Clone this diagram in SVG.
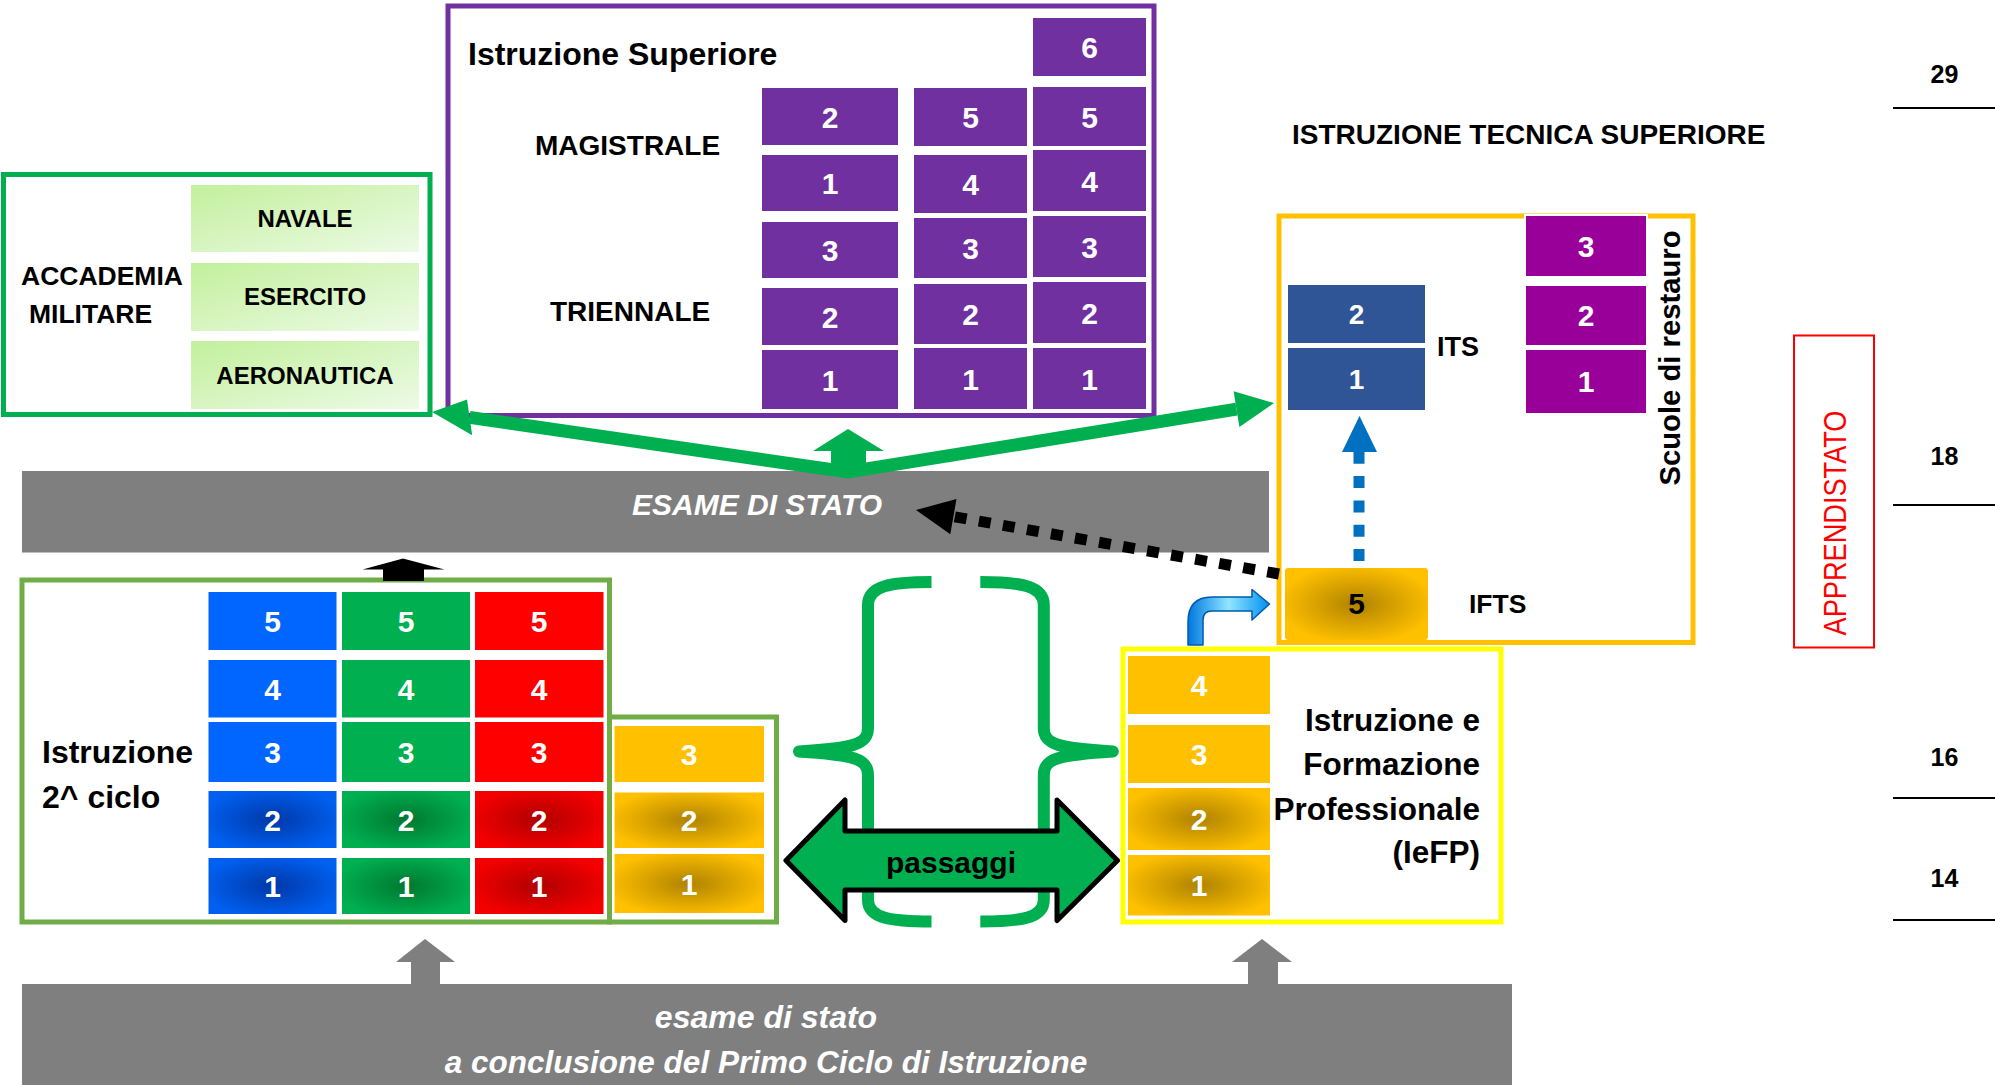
<svg xmlns="http://www.w3.org/2000/svg" width="1995" height="1085" viewBox="0 0 1995 1085">
<defs>
<radialGradient id="gY" cx="0.5" cy="0.5" r="0.55"><stop offset="0" stop-color="#b08300"/><stop offset="1" stop-color="#ffc000"/></radialGradient>
<radialGradient id="gB" cx="0.5" cy="0.5" r="0.55"><stop offset="0" stop-color="#0038a8"/><stop offset="1" stop-color="#0060f0"/></radialGradient>
<radialGradient id="gG" cx="0.5" cy="0.5" r="0.55"><stop offset="0" stop-color="#007830"/><stop offset="1" stop-color="#00b050"/></radialGradient>
<radialGradient id="gR" cx="0.5" cy="0.5" r="0.55"><stop offset="0" stop-color="#b00000"/><stop offset="1" stop-color="#f50000"/></radialGradient>
<linearGradient id="gL" x1="0" y1="0" x2="1" y2="1"><stop offset="0" stop-color="#c2f09c"/><stop offset="1" stop-color="#edfae6"/></linearGradient>
<linearGradient id="gA" x1="0" y1="0" x2="1" y2="0"><stop offset="0" stop-color="#0078e0"/><stop offset="0.5" stop-color="#8fe6ff"/><stop offset="1" stop-color="#0090f0"/></linearGradient>
</defs>
<style>
text{font-family:"Liberation Sans",Arial,sans-serif;font-weight:bold}
.n{font-size:30px;text-anchor:middle;fill:#fff}
.n28{font-size:28px;text-anchor:middle;fill:#fff}
.c{stroke:#fff;stroke-width:2}
.pu{fill:#7030a0}
.bl{fill:#0066ff}
.gr{fill:#00b050}
.rd{fill:#ff0000}
.ye{fill:#ffc000}
.lab{fill:#000}
.acc{font-size:24px;text-anchor:middle}
.age{font-size:25px;text-anchor:middle}
</style>
<rect width="1995" height="1085" fill="#fff"/>

<g id="esame-stato">
<rect x="22" y="471" width="1247" height="81.5" fill="#7f7f7f"/>
<text x="757" y="515" font-size="30" font-style="italic" fill="#fff" text-anchor="middle">ESAME DI STATO</text>
</g>

<g id="esame-primo-ciclo">
<rect x="22" y="984" width="1490" height="101" fill="#7f7f7f"/>
<text x="766" y="1028" font-size="32" font-style="italic" fill="#fff" text-anchor="middle">esame di stato</text>
<text x="766" y="1073" font-size="31.5" font-style="italic" fill="#fff" text-anchor="middle">a conclusione del Primo Ciclo di Istruzione</text>
</g>

<g id="accademia">
<rect x="3.5" y="174.5" width="426.5" height="240" fill="#fff" stroke="#00b050" stroke-width="5"/>
<rect x="191" y="185" width="228" height="67" fill="url(#gL)"/>
<rect x="191" y="263" width="228" height="68" fill="url(#gL)"/>
<rect x="191" y="341" width="228" height="68" fill="url(#gL)"/>
<text class="acc" x="305" y="227">NAVALE</text>
<text class="acc" x="305" y="305">ESERCITO</text>
<text class="acc" x="305" y="384">AERONAUTICA</text>
<text x="21" y="285" font-size="26.5">ACCADEMIA</text>
<text x="29" y="323" font-size="26.5">MILITARE</text>
</g>

<g id="istruzione-superiore">
<rect x="448" y="6" width="706" height="409.5" fill="#fff" stroke="#7030a0" stroke-width="5"/>
<text x="468" y="65" font-size="32">Istruzione Superiore</text>
<text x="535" y="155" font-size="28">MAGISTRALE</text>
<text x="550" y="321" font-size="28">TRIENNALE</text>
<g class="pu">
<rect class="c" x="761" y="87" width="138" height="59"/>
<rect class="c" x="761" y="154" width="138" height="58"/>
<rect class="c" x="761" y="221" width="138" height="58"/>
<rect class="c" x="761" y="287" width="138" height="59"/>
<rect class="c" x="761" y="349" width="138" height="61"/>
<rect class="c" x="913" y="87" width="115" height="60"/>
<rect class="c" x="913" y="154" width="115" height="60"/>
<rect class="c" x="913" y="217" width="115" height="62"/>
<rect class="c" x="913" y="283" width="115" height="62"/>
<rect class="c" x="913" y="347" width="115" height="63"/>
<rect class="c" x="1032" y="17" width="115" height="60"/>
<rect class="c" x="1032" y="86" width="115" height="61"/>
<rect class="c" x="1032" y="149" width="115" height="63"/>
<rect class="c" x="1032" y="215" width="115" height="63"/>
<rect class="c" x="1032" y="281" width="115" height="63"/>
<rect class="c" x="1032" y="347" width="115" height="63"/>
</g>
<text class="n" x="830" y="128">2</text>
<text class="n" x="830" y="194">1</text>
<text class="n" x="830" y="261">3</text>
<text class="n" x="830" y="328">2</text>
<text class="n" x="830" y="391">1</text>
<text class="n" x="970.5" y="128">5</text>
<text class="n" x="970.5" y="195">4</text>
<text class="n" x="970.5" y="259">3</text>
<text class="n" x="970.5" y="325">2</text>
<text class="n" x="970.5" y="390">1</text>
<text class="n" x="1089.5" y="58">6</text>
<text class="n" x="1089.5" y="128">5</text>
<text class="n" x="1089.5" y="192">4</text>
<text class="n" x="1089.5" y="258">3</text>
<text class="n" x="1089.5" y="324">2</text>
<text class="n" x="1089.5" y="390">1</text>
</g>

<text id="titolo-its" x="1292" y="143.5" font-size="28">ISTRUZIONE TECNICA SUPERIORE</text>

<g id="istruzione-tecnica-superiore">
<rect x="1279" y="216" width="414" height="426.5" fill="#fff" stroke="#ffc000" stroke-width="5"/>
<rect class="c" x="1287" y="284" width="139" height="60" fill="#2f5597"/>
<rect class="c" x="1287" y="347" width="139" height="64" fill="#2f5597"/>
<text class="n28" x="1356.5" y="324">2</text>
<text class="n28" x="1356.5" y="389">1</text>
<text x="1437" y="356" font-size="27">ITS</text>
<rect class="c" x="1525" y="215" width="122" height="62" fill="#990099"/>
<rect class="c" x="1525" y="285" width="122" height="61" fill="#990099"/>
<rect class="c" x="1525" y="349" width="122" height="65" fill="#990099"/>
<text class="n" x="1586" y="257">3</text>
<text class="n" x="1586" y="326">2</text>
<text class="n" x="1586" y="392">1</text>
<text transform="translate(1680,358) rotate(-90)" font-size="30" text-anchor="middle" textLength="255" lengthAdjust="spacingAndGlyphs">Scuole di restauro</text>
<rect x="1285" y="568" width="143" height="72" rx="3" fill="url(#gY)"/>
<text x="1356.5" y="614" font-size="30" text-anchor="middle">5</text>
<text x="1469" y="613" font-size="26.5">IFTS</text>
</g>

<g id="apprendistato">
<rect x="1794" y="335.5" width="80" height="312" fill="none" stroke="#ff0000" stroke-width="2"/>
<text transform="translate(1846,523) rotate(-90)" font-size="31" font-weight="normal" fill="#ff0000" text-anchor="middle" textLength="225" lengthAdjust="spacingAndGlyphs" style="font-weight:normal">APPRENDISTATO</text>
</g>

<g id="eta">
<text class="age" x="1944.5" y="83">29</text>
<text class="age" x="1944.5" y="465">18</text>
<text class="age" x="1944.5" y="766">16</text>
<text class="age" x="1944.5" y="887">14</text>
<g stroke="#000" stroke-width="2">
<line x1="1893" y1="108" x2="1995" y2="108"/>
<line x1="1893" y1="505" x2="1995" y2="505"/>
<line x1="1893" y1="798" x2="1995" y2="798"/>
<line x1="1893" y1="920" x2="1995" y2="920"/>
</g>
</g>

<g id="istruzione-2-ciclo">
<rect x="22" y="580" width="587.5" height="342" fill="#fff" stroke="#70ad47" stroke-width="5"/>
<rect x="609.5" y="717" width="167" height="205" fill="#fff" stroke="#70ad47" stroke-width="5"/>
<text x="42" y="763" font-size="32">Istruzione</text>
<text x="42" y="808" font-size="32">2^ ciclo</text>
<rect class="c bl" x="207.5" y="591" width="130" height="60"/>
<rect class="c bl" x="207.5" y="659" width="130" height="59.5"/>
<rect class="c bl" x="207.5" y="721" width="130" height="62"/>
<rect class="c" x="207.5" y="790" width="130" height="59" fill="url(#gB)"/>
<rect class="c" x="207.5" y="857" width="130" height="58" fill="url(#gB)"/>
<rect class="c gr" x="341" y="591" width="130" height="60"/>
<rect class="c gr" x="341" y="659" width="130" height="59.5"/>
<rect class="c gr" x="341" y="721" width="130" height="62"/>
<rect class="c" x="341" y="790" width="130" height="59" fill="url(#gG)"/>
<rect class="c" x="341" y="857" width="130" height="58" fill="url(#gG)"/>
<rect class="c rd" x="474" y="591" width="130.5" height="60"/>
<rect class="c rd" x="474" y="659" width="130.5" height="59.5"/>
<rect class="c rd" x="474" y="721" width="130.5" height="62"/>
<rect class="c" x="474" y="790" width="130.5" height="59" fill="url(#gR)"/>
<rect class="c" x="474" y="857" width="130.5" height="58" fill="url(#gR)"/>
<rect class="c ye" x="613.5" y="725" width="151.5" height="58"/>
<rect class="c" x="613.5" y="791.5" width="151.5" height="57.5" fill="url(#gY)"/>
<rect class="c" x="613.5" y="853" width="151.5" height="61" fill="url(#gY)"/>
<text class="n" x="272.5" y="632">5</text>
<text class="n" x="272.5" y="699.5">4</text>
<text class="n" x="272.5" y="763">3</text>
<text class="n" x="272.5" y="830.5">2</text>
<text class="n" x="272.5" y="897">1</text>
<text class="n" x="406" y="632">5</text>
<text class="n" x="406" y="699.5">4</text>
<text class="n" x="406" y="763">3</text>
<text class="n" x="406" y="830.5">2</text>
<text class="n" x="406" y="897">1</text>
<text class="n" x="539" y="632">5</text>
<text class="n" x="539" y="699.5">4</text>
<text class="n" x="539" y="763">3</text>
<text class="n" x="539" y="830.5">2</text>
<text class="n" x="539" y="897">1</text>
<text class="n" x="689" y="765">3</text>
<text class="n" x="689" y="831">2</text>
<text class="n" x="689" y="894.5">1</text>
</g>

<g id="iefp">
<rect x="1123" y="649" width="378" height="273" fill="#fff" stroke="#ffff00" stroke-width="5"/>
<rect class="c ye" x="1127" y="655" width="144" height="60"/>
<rect class="c ye" x="1127" y="724" width="144" height="60"/>
<rect class="c" x="1127" y="787" width="144" height="64" fill="url(#gY)"/>
<rect class="c" x="1127" y="854" width="144" height="62.5" fill="url(#gY)"/>
<text class="n" x="1199" y="696">4</text>
<text class="n" x="1199" y="765">3</text>
<text class="n" x="1199" y="830">2</text>
<text class="n" x="1199" y="896">1</text>
<g font-size="31.5" text-anchor="end">
<text x="1480" y="731">Istruzione e</text>
<text x="1480" y="775">Formazione</text>
<text x="1480" y="820">Professionale</text>
<text x="1480" y="863">(IeFP)</text>
</g>
</g>

<g id="passaggi">
<g fill="none" stroke="#00b050" stroke-width="12" stroke-linejoin="round">
<path id="brace" d="M 931.5 582 C 890 582 868 586 868 605 L 868 728 C 868 744 855 748 799 751.5 C 855 755 868 759 868 775 L 868 900 C 868 918 890 921.5 931.5 921.5"/>
<path d="M 931.5 582 C 890 582 868 586 868 605 L 868 728 C 868 744 855 748 799 751.5 C 855 755 868 759 868 775 L 868 900 C 868 918 890 921.5 931.5 921.5" transform="translate(1911.8,0) scale(-1,1)"/>
</g>
<polygon points="786,860.5 845,800 845,831 1057,831 1057,800 1117.5,860.5 1057,920.5 1057,890 845,890 845,920.5" fill="#00b050" stroke="#000" stroke-width="5" stroke-linejoin="round"/>
<text x="951" y="873" font-size="30" text-anchor="middle">passaggi</text>
</g>

<g id="connectors">
<polygon points="848,429 884,451 866,451 866,472 831,472 831,451 813,451" fill="#00b050"/>
<polyline points="469.6,417.4 848,472 1236.5,409.1" fill="none" stroke="#00b050" stroke-width="13"/>
<polygon points="432,412 467,399.6 472.2,435.2" fill="#00b050"/>
<polygon points="1274,403 1233.6,391.3 1239.4,426.9" fill="#00b050"/>
<polygon points="403,558.5 444.5,569.5 424,569.5 424,581 383,581 383,569.5 362.5,569.5" fill="#000"/>
<polygon points="425,939 455,962 440,962 440,984 411,984 411,962 396,962" fill="#7f7f7f"/>
<polygon points="1262,939 1292,962 1278,962 1278,984 1248,984 1248,962 1232,962" fill="#7f7f7f"/>
<line x1="1279" y1="574" x2="953.4" y2="516.6" stroke="#000" stroke-width="11" stroke-dasharray="12 12.4"/>
<polygon points="916,510 956.5,498.9 950.3,534.3" fill="#000"/>
<line x1="1359" y1="561" x2="1359" y2="451.8" stroke="#0070c0" stroke-width="11" stroke-dasharray="12 12.3"/>
<polygon points="1359.5,416 1377,452 1342,452" fill="#0070c0"/>
<path d="M 1188 645 L 1188 622 Q 1188 597 1212 597 L 1252 597 L 1252 589.5 L 1269.5 604 L 1252 620 L 1252 611 L 1212 611 Q 1203 611 1203 620 L 1203 645 Z" fill="url(#gA)" stroke="#0058b0" stroke-width="1.5" stroke-linejoin="round"/>
</g>
</svg>
